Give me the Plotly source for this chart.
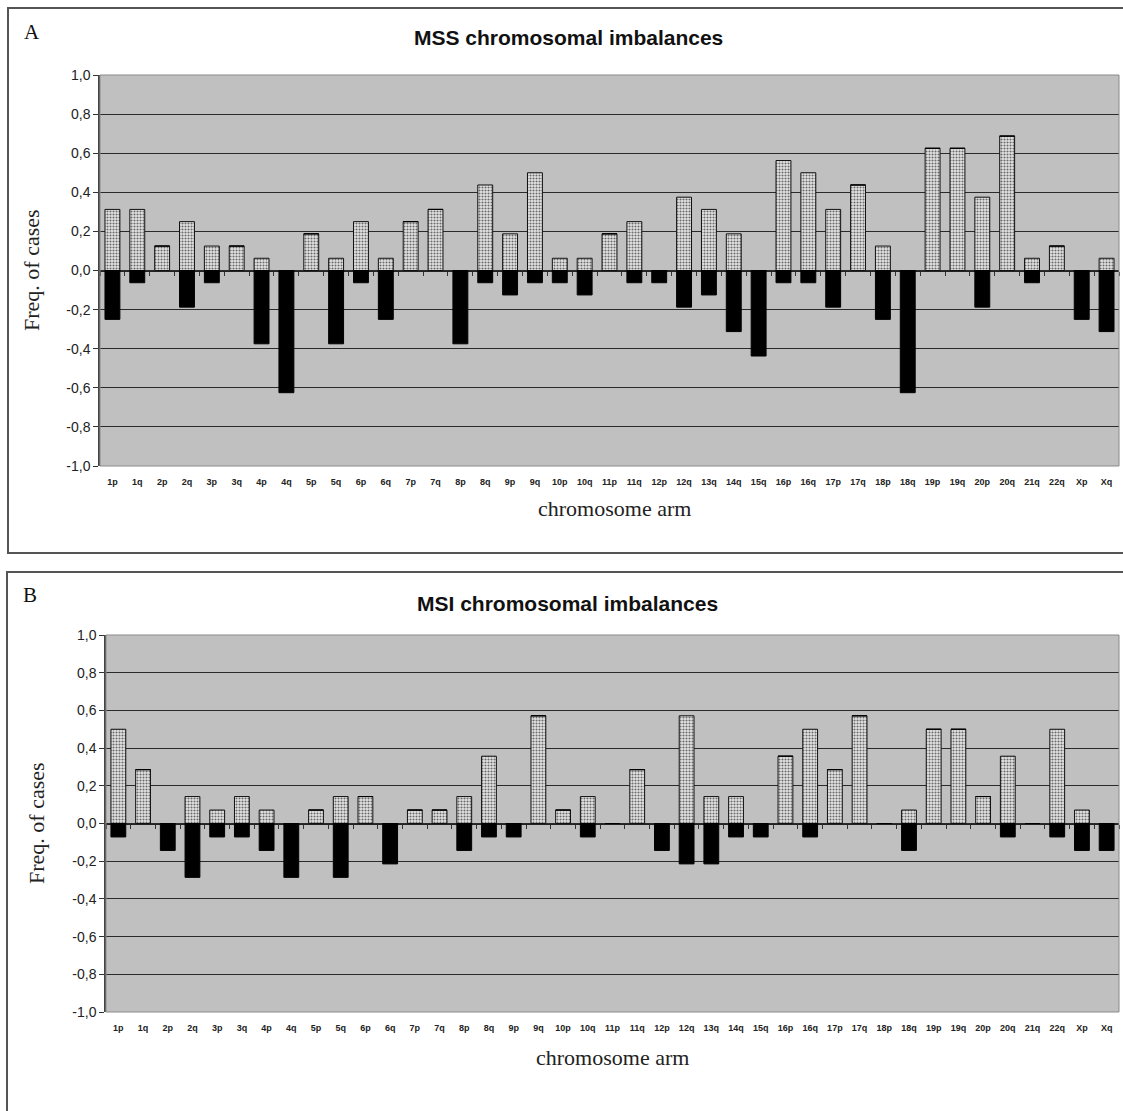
import plotly.graph_objects as go

categories = ["1p", "1q", "2p", "2q", "3p", "3q", "4p", "4q", "5p", "5q", "6p", "6q",
              "7p", "7q", "8p", "8q", "9p", "9q", "10p", "10q", "11p", "11q", "12p", "12q",
              "13q", "14q", "15q", "16p", "16q", "17p", "17q", "18p", "18q", "19p", "19q",
              "20p", "20q", "21q", "22q", "Xp", "Xq"]

# Panel A: MSS
mss_gain = [0.3125, 0.3125, 0.125, 0.25, 0.125, 0.125, 0.0625, 0.0, 0.1875, 0.0625, 0.25, 0.0625,
            0.25, 0.3125, 0.0, 0.4375, 0.1875, 0.5, 0.0625, 0.0625, 0.1875, 0.25, 0.0, 0.375,
            0.3125, 0.1875, 0.0, 0.5625, 0.5, 0.3125, 0.4375, 0.125, 0.0, 0.625, 0.625,
            0.375, 0.6875, 0.0625, 0.125, 0.0, 0.0625]
mss_loss = [-0.25, -0.0625, 0.0, -0.1875, -0.0625, 0.0, -0.375, -0.625, 0.0, -0.375, -0.0625, -0.25,
            0.0, 0.0, -0.375, -0.0625, -0.125, -0.0625, -0.0625, -0.125, 0.0, -0.0625, -0.0625, -0.1875,
            -0.125, -0.3125, -0.4375, -0.0625, -0.0625, -0.1875, 0.0, -0.25, -0.625, 0.0, 0.0,
            -0.1875, 0.0, -0.0625, 0.0, -0.25, -0.3125]

# Panel B: MSI
msi_gain = [0.5, 0.2857, 0.0, 0.1429, 0.0714, 0.1429, 0.0714, 0.0, 0.0714, 0.1429, 0.1429, 0.0,
            0.0714, 0.0714, 0.1429, 0.3571, 0.0, 0.5714, 0.0714, 0.1429, 0.0, 0.2857, 0.0, 0.5714,
            0.1429, 0.1429, 0.0, 0.3571, 0.5, 0.2857, 0.5714, 0.0, 0.0714, 0.5, 0.5,
            0.1429, 0.3571, 0.0, 0.5, 0.0714, 0.0]
msi_loss = [-0.0714, 0.0, -0.1429, -0.2857, -0.0714, -0.0714, -0.1429, -0.2857, 0.0, -0.2857, 0.0, -0.2143,
            0.0, 0.0, -0.1429, -0.0714, -0.0714, 0.0, 0.0, -0.0714, 0.0, 0.0, -0.1429, -0.2143,
            -0.2143, -0.0714, -0.0714, 0.0, -0.0714, 0.0, 0.0, 0.0, -0.1429, 0.0, 0.0,
            0.0, -0.0714, 0.0, -0.0714, -0.1429, -0.1429]

y_tick_values = [1.0, 0.8, 0.6, 0.4, 0.2, 0.0, -0.2, -0.4, -0.6, -0.8, -1.0]
y_tick_labels = ["1,0", "0,8", "0,6", "0,4", "0,2", "0,0", "-0,2", "-0,4", "-0,6", "-0,8", "-1,0"]

titles = ["MSS chromosomal imbalances", "MSI chromosomal imbalances"]
panel_letters = ["A", "B"]

W, H = 1123, 1111


def px(x):
    return x / W


def py(y):
    return 1 - y / H


SANS = "Liberation Sans, Arial, sans-serif"
SERIF = "Liberation Serif, Times New Roman, serif"

fig = go.Figure()

panels = [
    dict(gain=mss_gain, loss=mss_loss, xa="x", ya="y", xz="x3",
         left=100, right=1119, top=75, bottom=466),
    dict(gain=msi_gain, loss=msi_loss, xa="x2", ya="y2", xz="x4",
         left=106, right=1119, top=635, bottom=1012),
]

for p in panels:
    fig.add_trace(go.Bar(
        x=categories, y=p["gain"], xaxis=p["xa"], yaxis=p["ya"], showlegend=False,
        marker=dict(color="#dadada",
                    pattern=dict(shape=".", fgcolor="#6a6a6a", bgcolor="#e6e6e6",
                                 size=3, solidity=0.4),
                    line=dict(color="#111111", width=1)),
    ))
    fig.add_trace(go.Bar(
        x=categories, y=p["loss"], xaxis=p["xa"], yaxis=p["ya"], showlegend=False,
        marker=dict(color="#000000", line=dict(color="#000000", width=1)),
    ))
    fig.add_trace(go.Scatter(
        x=categories, y=[0] * len(categories), xaxis=p["xz"], yaxis=p["ya"],
        mode="none", showlegend=False, hoverinfo="skip",
    ))

layout = dict(
    template="none",
    width=W, height=H,
    margin=dict(l=0, r=0, t=0, b=0, pad=0, autoexpand=False),
    paper_bgcolor="white",
    plot_bgcolor="#c0c0c0",
    barmode="relative",
    bargap=0.4,
    font=dict(family=SANS, color="#222222"),
)

axis_names = [("xaxis", "yaxis", "xaxis3", "y", "x"), ("xaxis2", "yaxis2", "xaxis4", "y2", "x2")]
shapes = []
for p, (xn, yn, zn, yref, xref) in zip(panels, axis_names):
    xdom = [px(p["left"]), px(p["right"])]
    ydom = [py(p["bottom"]), py(p["top"])]
    layout[xn] = dict(
        domain=xdom, anchor=yref, type="category", range=[-0.5, len(categories) - 0.5],
        showgrid=False, ticks="", showline=False, zeroline=False, automargin=False,
        tickfont=dict(family=SANS, size=9, color="#222222", weight="bold"),
        ticklabelstandoff=9,
    )
    layout[yn] = dict(
        domain=ydom, anchor=xref, range=[-1, 1], automargin=False,
        tickvals=y_tick_values, ticktext=y_tick_labels,
        ticks="outside", ticklen=5, tickcolor="#333333", tickwidth=1,
        showgrid=True, gridcolor="#2a2a2a", gridwidth=1.3,
        zeroline=False, showline=True, linecolor="#444444", linewidth=1.5,
        tickfont=dict(family=SANS, size=14, color="#222222"),
    )
    layout[zn] = dict(
        overlaying=xref, anchor="free", position=(ydom[0] + ydom[1]) / 2,
        type="category", range=[-0.5, len(categories) - 0.5], automargin=False,
        tickson="boundaries", ticks="outside", ticklen=4, tickcolor="#333333",
        showticklabels=False, showgrid=False, zeroline=False,
        showline=True, linecolor="#222222", linewidth=1.3, layer="below traces",
    )
    shapes.append(dict(type="rect", xref=f"{xref} domain", yref=f"{yref} domain",
                       x0=0, x1=1, y0=0, y1=1, line=dict(color="#8a8a8a", width=1)))

# panel frames
shapes.append(dict(type="rect", xref="paper", yref="paper",
                   x0=px(8), x1=px(1126), y0=py(553), y1=py(8),
                   line=dict(color="#555555", width=2)))
shapes.append(dict(type="rect", xref="paper", yref="paper",
                   x0=px(7), x1=px(1126), y0=py(1116), y1=py(572),
                   line=dict(color="#555555", width=2)))
layout["shapes"] = shapes

annotations = []
letter_pos = [(22, 32), (21, 595)]
title_pos = [(568, 38), (567, 603)]
ytitle_pos = [(32, 270), (36, 823)]
xtitle_pos = [(614, 508), (612, 1057)]
for i in range(2):
    annotations.append(dict(text=panel_letters[i], x=px(letter_pos[i][0]), y=py(letter_pos[i][1]),
                            xref="paper", yref="paper", xanchor="left", yanchor="middle",
                            showarrow=False, font=dict(family=SERIF, size=21, color="#111111")))
    annotations.append(dict(text=f"<b>{titles[i]}</b>", x=px(title_pos[i][0]), y=py(title_pos[i][1]),
                            xref="paper", yref="paper", xanchor="center", yanchor="middle",
                            showarrow=False, font=dict(family=SANS, size=21, color="#111111")))
    annotations.append(dict(text="Freq. of cases", x=px(ytitle_pos[i][0]), y=py(ytitle_pos[i][1]),
                            xref="paper", yref="paper", xanchor="center", yanchor="middle",
                            textangle=-90, showarrow=False,
                            font=dict(family=SERIF, size=22, color="#222222")))
    annotations.append(dict(text="chromosome arm", x=px(xtitle_pos[i][0]), y=py(xtitle_pos[i][1]),
                            xref="paper", yref="paper", xanchor="center", yanchor="middle",
                            showarrow=False, font=dict(family=SERIF, size=22, color="#222222")))
layout["annotations"] = annotations

fig.update_layout(**layout)

post = ("document.documentElement.style.margin='0';document.documentElement.style.padding='0';"
        "document.body.style.margin='0';document.body.style.padding='0';"
        "document.body.style.overflow='hidden';"
        "var d=document.getElementById('{plot_id}');"
        "d.style.position='fixed';d.style.top='0px';d.style.left='0px';")
fig.write_html("out.html", post_script=post, config={"displayModeBar": False})
